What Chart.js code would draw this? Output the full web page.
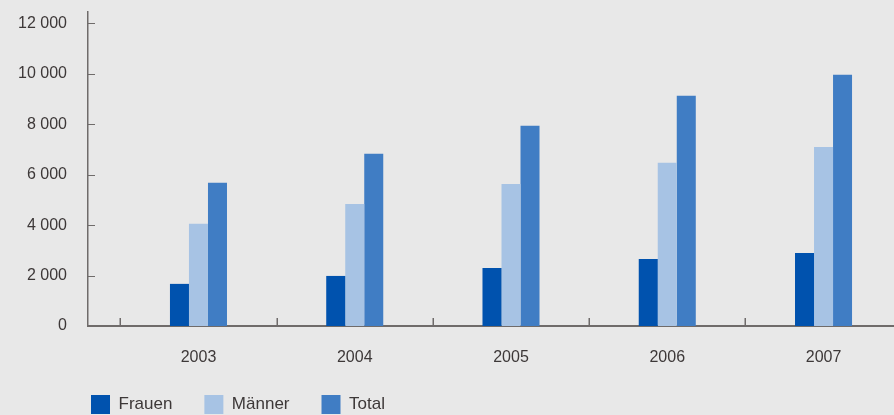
<!DOCTYPE html>
<html>
<head>
<meta charset="utf-8">
<script src="https://cdn.jsdelivr.net/npm/chart.js@4/dist/chart.umd.min.js"></script>
<style>
  html, body { margin: 0; padding: 0; background: #e8e8e8; overflow: hidden; }
  #wrap { position: relative; width: 894px; height: 415px; }
</style>
</head>
<body>
<div id="wrap"><canvas id="c"></canvas></div>
<script>
const years = [2003, 2004, 2005, 2006, 2007];
const frauen = [1670, 1985, 2300, 2660, 2895];
const maenner = [4050, 4840, 5635, 6470, 7100];
const total = [5675, 6825, 7935, 9125, 9960];
const yTicks = [0, 2000, 4000, 6000, 8000, 10000, 12000];
const yTickLabels = ['0', '2 000', '4 000', '6 000', '8 000', '10 000', '12 000'];
const seriesNames = ['Frauen', 'Männer', 'Total'];

const TEXT = '#3d3838';
const AXIS = '#6f6b6a';
const FONT = 'Liberation Sans, Arial, Helvetica, sans-serif';
const LEGEND_PAD = 32;

function pts(vals) { return years.map((yr, i) => ({ x: yr, y: vals[i] })); }

const tickMarks = {
  id: 'tickMarks',
  afterLayout(chart) {
    if (chart.legend) {
      const h = chart.legend.height, w = chart.legend.width;
      chart.legend.left = 91 - LEGEND_PAD;
      chart.legend.right = chart.legend.left + w;
      chart.legend.top = 395 - LEGEND_PAD;
      chart.legend.bottom = chart.legend.top + h;
    }
  },
  afterDatasetsDraw(chart) {
    const { ctx, scales: { x, y } } = chart;
    ctx.save();
    ctx.strokeStyle = AXIS;
    ctx.lineWidth = 1.5;
    const base = y.getPixelForValue(0);
    years.forEach(yr => {
      const px = Math.round(x.getPixelForValue(yr - 0.5)) + 0.25;
      ctx.beginPath();
      ctx.moveTo(px, base);
      ctx.lineTo(px, base - 8);
      ctx.stroke();
    });
    ctx.lineWidth = 1;
    yTicks.forEach(v => {
      const py = Math.round(y.getPixelForValue(v)) + 0.5;
      ctx.beginPath();
      ctx.moveTo(x.left, py);
      ctx.lineTo(x.left + 7, py);
      ctx.stroke();
    });
    ctx.restore();
  }
};

new Chart(document.getElementById('c'), {
  type: 'bar',
  data: {
    datasets: [
      { label: seriesNames[0], data: pts(frauen), backgroundColor: '#0052ae', borderWidth: 0 },
      { label: seriesNames[1], data: pts(maenner), backgroundColor: '#a7c3e4', borderWidth: 0 },
      { label: seriesNames[2], data: pts(total), backgroundColor: '#407dc4', borderWidth: 0 }
    ]
  },
  options: {
    responsive: true,
    maintainAspectRatio: false,
    animation: false,
    layout: { padding: { left: 0, right: 0, top: 12, bottom: -12 } },
    datasets: { bar: { categoryPercentage: 0.365, barPercentage: 1 } },
    scales: {
      x: {
        type: 'linear',
        offset: false,
        min: 2002.293,
        max: 2007.451,
        grid: { display: false, drawTicks: false },
        border: { display: true, color: AXIS, width: 2 },
        afterBuildTicks: s => { s.ticks = years.map(v => ({ value: v })); },
        afterFit: s => { s.height = 40; s.paddingLeft = 0; s.paddingRight = 0; },
        ticks: {
          padding: 22,
          color: TEXT,
          font: { family: FONT, size: 16 },
          callback: v => String(v),
          maxRotation: 0,
          autoSkip: false
        }
      },
      y: {
        min: 0,
        max: 12450,
        grid: { display: false, drawTicks: false },
        border: { display: true, color: AXIS, width: 1.5 },
        afterBuildTicks: s => { s.ticks = yTicks.map(v => ({ value: v })); },
        afterFit: s => { s.width = 88; s.paddingTop = 0; s.paddingBottom = 0; },
        ticks: {
          padding: 21,
          color: TEXT,
          font: { family: FONT, size: 16 },
          callback: v => yTickLabels[yTicks.indexOf(v)]
        }
      }
    },
    plugins: {
      legend: {
        position: 'bottom',
        align: 'start',
        labels: {
          boxWidth: 19,
          boxHeight: 19,
          padding: LEGEND_PAD,
          color: TEXT,
          font: { family: FONT, size: 17 }
        }
      },
      tooltip: { enabled: false }
    }
  },
  plugins: [tickMarks]
});
</script>
</body>
</html>
